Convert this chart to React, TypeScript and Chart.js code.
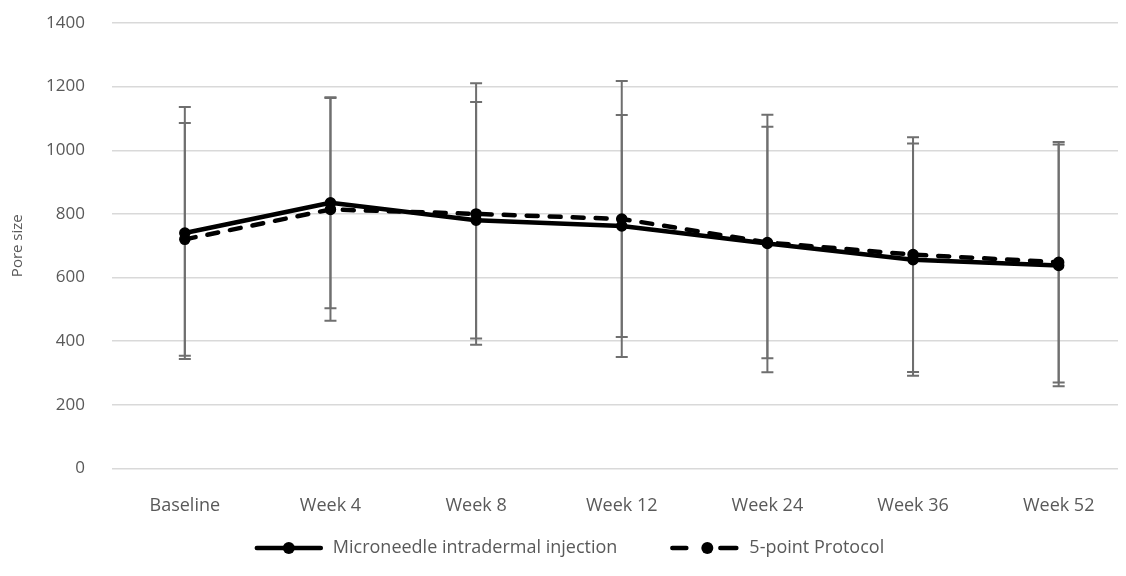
import React, { useEffect, useRef } from "react";
import { Chart, registerables } from "chart.js";

Chart.register(...registerables);

const categories = ["Baseline", "Week 4", "Week 8", "Week 12", "Week 24", "Week 36", "Week 52"];
const microMean = [740, 835, 780, 762, 707, 656, 638];
const microSD = [396, 332, 372, 349, 405, 365, 380];
const protocolMean = [720, 814, 800, 784, 710, 672, 648];
const protocolSD = [366, 350, 411, 434, 364, 369, 378];
const seriesNames = ["Microneedle intradermal injection", "5-point Protocol"];
const yTicks = [0, 200, 400, 600, 800, 1000, 1200, 1400];

const FONT = "'Open Sans', 'Noto Sans', sans-serif";
const TEXT = "#595959";

const errorBarPlugin = {
  id: "errorBars",
  beforeDatasetsDraw(chart: any) {
    const ctx = chart.ctx;
    const y = chart.scales.y;
    const x = chart.scales.x;
    const sets = [
      { mean: microMean, sd: microSD },
      { mean: protocolMean, sd: protocolSD },
    ];
    ctx.save();
    ctx.strokeStyle = "#6f6f6f";
    ctx.lineWidth = 2;
    sets.forEach((s) => {
      s.mean.forEach((m, i) => {
        const px = x.getPixelForValue(i);
        const top = y.getPixelForValue(m + s.sd[i]);
        const bot = y.getPixelForValue(m - s.sd[i]);
        ctx.beginPath();
        ctx.moveTo(px, top);
        ctx.lineTo(px, bot);
        ctx.moveTo(px - 6, top);
        ctx.lineTo(px + 6, top);
        ctx.moveTo(px - 6, bot);
        ctx.lineTo(px + 6, bot);
        ctx.stroke();
      });
    });
    ctx.restore();
  },
};

const legendPlugin = {
  id: "customLegend",
  afterDraw(chart: any) {
    const ctx = chart.ctx;
    ctx.save();
    ctx.font = `18px ${FONT}`;
    const sampleW = 68;
    const gapText = 10;
    const gapItem = 53;
    const w1 = ctx.measureText(seriesNames[0]).width;
    const w2 = ctx.measureText(seriesNames[1]).width;
    const total = sampleW + gapText + w1 + gapItem + sampleW + gapText + w2;
    let x = chart.width / 2 - 4 - total / 2;
    const cy = 540;
    ctx.strokeStyle = "#000";
    ctx.fillStyle = "#000";
    ctx.lineWidth = 4.5;
    ctx.lineCap = "round";
    ctx.beginPath();
    ctx.moveTo(x + 2, cy);
    ctx.lineTo(x + sampleW - 2, cy);
    ctx.stroke();
    ctx.beginPath();
    ctx.arc(x + sampleW / 2, cy, 6, 0, Math.PI * 2);
    ctx.fill();
    x += sampleW + gapText;
    ctx.fillStyle = TEXT;
    ctx.textBaseline = "middle";
    ctx.textAlign = "left";
    ctx.fillText(seriesNames[0], x, cy);
    x += w1 + gapItem;
    ctx.fillStyle = "#000";
    ctx.beginPath();
    ctx.moveTo(x + 2, cy);
    ctx.lineTo(x + 16, cy);
    ctx.moveTo(x + 50, cy);
    ctx.lineTo(x + sampleW - 2, cy);
    ctx.stroke();
    ctx.beginPath();
    ctx.arc(x + 37, cy, 6, 0, Math.PI * 2);
    ctx.fill();
    x += sampleW + gapText + 1;
    ctx.fillStyle = TEXT;
    ctx.fillText(seriesNames[1], x, cy);
    ctx.restore();
  },
};

export default function App() {
  const ref = useRef<HTMLCanvasElement | null>(null);

  useEffect(() => {
    if (!ref.current) return;
    const chart = new Chart(ref.current, {
      type: "line",
      data: {
        labels: categories,
        datasets: [
          {
            label: seriesNames[0],
            data: microMean,
            borderColor: "#000",
            backgroundColor: "#000",
            borderWidth: 4.5,
            borderCapStyle: "round",
            borderJoinStyle: "round",
            pointRadius: 5,
            pointBorderWidth: 1.5,
            pointBackgroundColor: "#000",
            pointBorderColor: "#000",
            tension: 0,
          },
          {
            label: seriesNames[1],
            data: protocolMean,
            borderColor: "#000",
            backgroundColor: "#000",
            borderWidth: 4.5,
            borderDash: [11, 12],
            borderCapStyle: "round",
            borderJoinStyle: "round",
            pointRadius: 5,
            pointBorderWidth: 1.5,
            pointBackgroundColor: "#000",
            pointBorderColor: "#000",
            tension: 0,
          },
        ],
      },
      options: {
        responsive: false,
        animation: false,
        devicePixelRatio: 1,
        layout: { padding: { left: 0, right: 3, top: 15, bottom: 24 } },
        plugins: {
          tooltip: { enabled: false },
          legend: { display: false },
        },
        scales: {
          x: {
            type: "category",
            offset: true,
            grid: { display: false, drawTicks: false },
            border: { display: false },
            ticks: { color: TEXT, font: { family: FONT, size: 18 }, padding: 27, maxRotation: 0, autoSkip: false },
          },
          y: {
            min: 0,
            max: 1400,
            afterBuildTicks: (s: any) => {
              s.ticks = yTicks.map((v) => ({ value: v }));
            },
            grid: {
              color: "#d9d9d9",
              lineWidth: 1.5,
              drawTicks: true,
              tickLength: 27,
              tickColor: "rgba(0,0,0,0)",
            },
            border: { display: false },
            ticks: {
              color: TEXT,
              font: { family: FONT, size: 17 },
              padding: 0,
              callback: (v: any) => String(v),
            },
            title: {
              display: true,
              text: "Pore size",
              color: TEXT,
              font: { family: FONT, size: 15 },
              padding: { top: 1, bottom: 0 },
            },
            afterFit: (s: any) => {
              s.width = 104;
            },
          },
        },
      },
      plugins: [errorBarPlugin, legendPlugin],
    });
    return () => chart.destroy();
  }, []);

  return (
    <div style={{ width: 1118, height: 560, overflow: "hidden", position: "relative" }}>
      <canvas ref={ref} width={1130} height={560} style={{ display: "block" }} />
    </div>
  );
}
